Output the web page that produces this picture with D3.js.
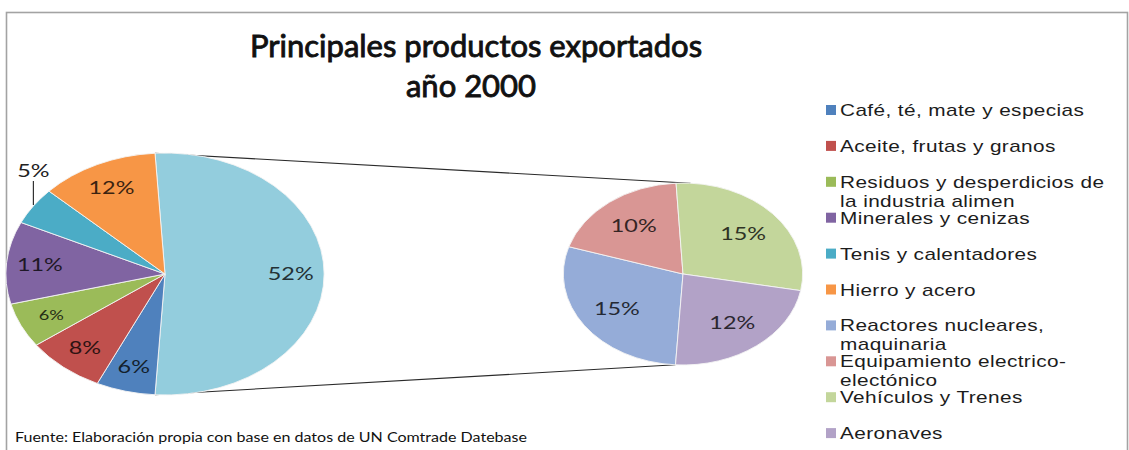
<!DOCTYPE html>
<html>
<head>
<meta charset="utf-8">
<script src="https://cdn.jsdelivr.net/npm/d3@7"></script>
<style>
  html, body { margin: 0; padding: 0; background: #fff; }
  svg { display: block; }
</style>
</head>
<body>
<svg id="chart" width="1129" height="450"></svg>
<script>
// Primary pie: the six product groups plus the combined share broken out in the secondary pie
const mainCategories = [
  "Otros",
  "Café, té, mate y especias",
  "Aceite, frutas y granos",
  "Residuos y desperdicios de la industria alimen",
  "Minerales y cenizas",
  "Tenis y calentadores",
  "Hierro y acero"
];
const mainValues = [52, 6, 8, 6, 11, 5, 12];

// Secondary pie: breakdown of the combined share
const subCategories = [
  "Reactores nucleares, maquinaria",
  "Equipamiento electrico-electónico",
  "Vehículos y Trenes",
  "Aeronaves"
];
const subValues = [15, 10, 15, 12];

const titleLines = ["Principales productos exportados", "año 2000"];
const sourceNote = "Fuente: Elaboración propia con base en datos de UN Comtrade Datebase";

const mainColors = ["#93CDDD", "#4F81BD", "#C0504D", "#9BBB59", "#8064A2", "#4BACC6", "#F79646"];
const subColors = ["#95ACD8", "#D99694", "#C3D69B", "#B2A2C7"];

const svg = d3.select("#chart");

// chart frame
svg.append("rect")
  .attr("x", 6.5).attr("y", 12.5)
  .attr("width", 1121).attr("height", 470)
  .attr("fill", "#fff")
  .attr("stroke", "#a3a3a3")
  .attr("stroke-width", 1.6);

// pies are drawn as circles and stretched horizontally into ellipses
const sx = 1.315;
const main = { cx: 165, cy: 274, r: 121, labelK: 0.79 };
const sub  = { cx: 683, cy: 274, r: 91,  labelK: 0.67 };

const total = d3.sum(mainValues);
const otherSpan = mainValues[0] / total * 2 * Math.PI;
const a0 = Math.PI / 2 - otherSpan / 2;   // combined slice is centred on the right

const mainPie = d3.pie().sort(null).value(d => d)
  .startAngle(a0).endAngle(a0 + 2 * Math.PI);
const subPie = d3.pie().sort(null).value(d => d)
  .startAngle(Math.PI - a0).endAngle(Math.PI - a0 + 2 * Math.PI);

const pt = (g, r, ang) => [g.cx + r * Math.sin(ang) * sx, g.cy - r * Math.cos(ang)];

// connector lines between the pies
const connectors = [
  [pt(main, main.r, a0), pt(sub, sub.r, -a0)],
  [pt(main, main.r, Math.PI - a0), pt(sub, sub.r, Math.PI - a0)]
];
svg.append("g").selectAll("line").data(connectors).join("line")
  .attr("x1", d => d[0][0]).attr("y1", d => d[0][1])
  .attr("x2", d => d[1][0]).attr("y2", d => d[1][1])
  .attr("stroke", "#2a2a2a").attr("stroke-width", 1.1);

function drawPie(geom, arcs, colors) {
  const arc = d3.arc().innerRadius(0).outerRadius(geom.r);
  svg.append("g")
    .attr("transform", `translate(${geom.cx},${geom.cy}) scale(${sx},1)`)
    .selectAll("path").data(arcs).join("path")
    .attr("d", arc)
    .attr("fill", (d, i) => colors[i])
    .attr("stroke", "#f4f4f4")
    .attr("stroke-width", 0.9)
    .attr("vector-effect", "non-scaling-stroke");
}

const mainArcs = mainPie(mainValues);
const subArcs = subPie(subValues);
drawPie(main, mainArcs, mainColors);
drawPie(sub, subArcs, subColors);

const labelFont = "Lato, 'Open Sans', sans-serif";
const labelStretch = 1.3;
const smallLabel = new Set(["Residuos y desperdicios de la industria alimen"]);

function drawLabels(geom, arcs, values, colors, cats) {
  const g = svg.append("g").attr("font-family", labelFont);
  arcs.forEach((a, i) => {
    const mid = (a.startAngle + a.endAngle) / 2;
    const share = values[i] / total;
    const txt = d3.format(".0%")(share);
    if (share < 0.055) {
      // narrow slice: label outside with a vertical leader line
      const [ex, ey] = pt(geom, geom.r, mid);
      g.append("line")
        .attr("x1", ex).attr("y1", ey - 1)
        .attr("x2", ex).attr("y2", ey - 25)
        .attr("stroke", "#333").attr("stroke-width", 1.2);
      g.append("text")
        .attr("transform", `translate(${ex},${ey - 29}) scale(${labelStretch},1)`)
        .attr("text-anchor", "middle")
        .attr("font-size", 18)
        .attr("fill", "#222")
        .text(txt);
    } else {
      const [lx, ly] = pt(geom, geom.r * geom.labelK, mid);
      g.append("text")
        .attr("transform", `translate(${lx},${ly}) scale(${labelStretch},1)`)
        .attr("dy", "0.36em")
        .attr("text-anchor", "middle")
        .attr("font-size", smallLabel.has(cats[i]) ? 14 : 18)
        .attr("fill", d3.color(colors[i]).darker(4))
        .text(txt);
    }
  });
}
drawLabels(main, mainArcs, mainValues, mainColors, mainCategories);
drawLabels(sub, subArcs, subValues, subColors, subCategories);

// title
svg.append("g")
  .attr("font-family", labelFont)
  .attr("font-weight", 400)
  .attr("font-size", 31)
  .attr("fill", "#111")
  .selectAll("text").data(titleLines).join("text")
  .attr("x", (d, i) => [476, 471][i])
  .attr("y", (d, i) => [57, 97][i])
  .attr("text-anchor", "middle")
  .attr("stroke", "#111")
  .attr("stroke-width", 0.9)
  .text(d => d);

// source note
svg.append("text")
  .attr("x", 15).attr("y", 442)
  .attr("font-family", labelFont)
  .attr("font-size", 14)
  .attr("fill", "#111")
  .attr("textLength", 512)
  .attr("lengthAdjust", "spacingAndGlyphs")
  .text(sourceNote);

// legend: product groups of both pies, in order
const legendItems = [
  ...mainCategories.slice(1).map((c, i) => ({ name: c, color: mainColors[i + 1] })),
  ...subCategories.map((c, i) => ({ name: c, color: subColors[i] }))
];
const lg = { x: 826, textX: 840, y0: 116, step: 35.9, lineH: 19, maxW: 276, stretch: 1.3 };

const legend = svg.append("g")
  .attr("font-family", "'Liberation Sans', Arial, sans-serif")
  .attr("font-size", 16)
  .attr("fill", "#1c1c1c");

// measuring helper for word wrap (widths in screen pixels after stretch)
const probe = legend.append("text").attr("letter-spacing", 0.3).attr("visibility", "hidden");
const measure = s => probe.text(s).node().getComputedTextLength() * lg.stretch;

function wrap(label) {
  const tokens = [];
  label.split(" ").forEach((w, wi) => {
    const parts = w.split(/(?<=-)/);
    parts.forEach((p, pi) => tokens.push({ text: p, space: wi > 0 && pi === 0 }));
  });
  const lines = [];
  let cur = "";
  tokens.forEach(t => {
    const next = cur === "" ? t.text : cur + (t.space ? " " : "") + t.text;
    if (cur !== "" && measure(next) > lg.maxW) {
      lines.push(cur);
      cur = t.text;
    } else {
      cur = next;
    }
  });
  if (cur) lines.push(cur);
  return lines;
}

legendItems.forEach((item, i) => {
  const base = lg.y0 + i * lg.step;
  legend.append("rect")
    .attr("x", lg.x).attr("y", base - 11)
    .attr("width", 10).attr("height", 10)
    .attr("fill", item.color);
  wrap(item.name).forEach((line, li) => {
    legend.append("text")
      .attr("transform", `translate(${lg.textX},${base + li * lg.lineH}) scale(${lg.stretch},1)`)
      .attr("letter-spacing", 0.3)
      .text(line);
  });
});
probe.remove();
</script>
</body>
</html>
